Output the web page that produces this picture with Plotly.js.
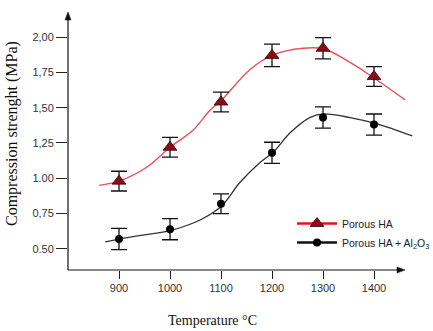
<!DOCTYPE html>
<html>
<head>
<meta charset="utf-8">
<script src="https://cdn.plot.ly/plotly-3.0.1.min.js"></script>
<style>html,body{margin:0;padding:0;background:#fff;}#chart{width:433px;height:331px;}</style>
</head>
<body>
<div id="chart"></div>
<script>
// Measured points
var temps = [900, 1000, 1100, 1200, 1300, 1400];
var haValues = [0.98, 1.22, 1.54, 1.87, 1.92, 1.72];
var haErrors = [0.07, 0.07, 0.07, 0.08, 0.075, 0.07];
var alValues = [0.57, 0.64, 0.82, 1.18, 1.43, 1.38];
var alErrors = [0.075, 0.075, 0.07, 0.075, 0.075, 0.075];

// Fitted curves
var haFitX = [861, 900, 955, 1000, 1045, 1078, 1100, 1157, 1200, 1261, 1302, 1353, 1400, 1461];
var haFitY = [0.95, 0.98, 1.08, 1.22, 1.34, 1.48, 1.55, 1.77, 1.87, 1.92, 1.915, 1.82, 1.71, 1.555];
var alFitX = [873, 900, 950, 1000, 1059, 1100, 1137, 1176, 1204, 1235, 1274, 1300, 1353, 1406, 1475];
var alFitY = [0.55, 0.57, 0.60, 0.63, 0.705, 0.80, 0.97, 1.11, 1.19, 1.32, 1.43, 1.455, 1.43, 1.385, 1.30];

// Axis ticks
var xTicks = [900, 1000, 1100, 1200, 1300, 1400];
var xTickText = ['900', '1000', '1100', '1200', '1300', '1400'];
var yTicks = [0.5, 0.75, 1.0, 1.25, 1.5, 1.75, 2.0];
var yTickText = ['0.50', '0,75', '1.00', '1,25', '1,50', '1,75', '2,00'];

var seriesNames = ['Porous HA', 'Porous HA + Al<sub>2</sub>O<sub>3</sub>'];
var xTitle = 'Temperature °C';
var yTitle = 'Compression strenght (MPa)';

var redLine = '#e8505a';
var triFill = '#8a0c18';

var traces = [
  {x: haFitX, y: haFitY, mode: 'lines', line: {color: redLine, width: 1.4, shape: 'spline', smoothing: 1}, showlegend: false, hoverinfo: 'skip'},
  {x: alFitX, y: alFitY, mode: 'lines', line: {color: '#333333', width: 1.3, shape: 'spline', smoothing: 1}, showlegend: false, hoverinfo: 'skip'},
  {x: temps, y: haValues, mode: 'markers', showlegend: false,
   marker: {symbol: 'triangle-up', size: 12, color: triFill, line: {color: '#3a0000', width: 0.8}},
   error_y: {type: 'data', array: haErrors, visible: true, color: '#111', thickness: 1.3, width: 8}},
  {x: temps, y: alValues, mode: 'markers', showlegend: false,
   marker: {symbol: 'circle', size: 8, color: '#000'},
   error_y: {type: 'data', array: alErrors, visible: true, color: '#111', thickness: 1.3, width: 8}},
  {x: [null], y: [null], mode: 'lines+markers', name: seriesNames[0],
   line: {color: '#e8101a', width: 2.5}, marker: {symbol: 'triangle-up', size: 12, color: triFill, line: {color: '#3a0000', width: 0.8}}},
  {x: [null], y: [null], mode: 'lines+markers', name: seriesNames[1],
   line: {color: '#111', width: 2.5}, marker: {symbol: 'circle', size: 8, color: '#000'}}
];

var L = 68, R = 18, T = 12, B = 61;
var W = 433 - L - R, H = 331 - T - B;
function px(xp) { return (xp - L) / W; }
function py(yp) { return (331 - B - yp) / H; }

var xEnd = px(405);
var ah = 8, aw = 3;

var layout = {
  width: 433, height: 331,
  margin: {l: L, r: R, t: T, b: B, pad: 0, autoexpand: false},
  paper_bgcolor: '#fff', plot_bgcolor: '#fff',
  showlegend: true,
  legend: {x: px(292), xanchor: 'left', y: py(209), yanchor: 'top',
           bgcolor: 'rgba(0,0,0,0)', font: {family: 'Liberation Sans, Arial, sans-serif', size: 10.5, color: '#222'},
           itemwidth: 40, tracegroupgap: 0},
  xaxis: {
    range: [800, 800 + W / 0.51], showgrid: false, zeroline: false, showline: false,
    tickvals: xTicks, ticktext: xTickText, ticks: 'outside', ticklen: 8, tickcolor: '#222', tickwidth: 1,
    tickfont: {family: 'Liberation Sans, Arial, sans-serif', size: 11, color: '#333'},
    fixedrange: true
  },
  yaxis: {
    range: [0.351, 2.177], showgrid: false, zeroline: false, showline: false,
    tickvals: yTicks, ticktext: yTickText, ticks: 'outside', ticklen: 11, tickcolor: '#222', tickwidth: 1,
    tickfont: {family: 'Liberation Sans, Arial, sans-serif', size: 11, color: '#333'},
    fixedrange: true
  },
  shapes: [
    {type: 'line', xref: 'paper', yref: 'paper', x0: 0, y0: 0, x1: xEnd - 2 / W, y1: 0, line: {color: '#111', width: 1.2}},
    {type: 'line', xref: 'paper', yref: 'paper', x0: 0, y0: 0, x1: 0, y1: 1 - 2 / H, line: {color: '#111', width: 1.2}},
    {type: 'path', xref: 'paper', yref: 'paper',
     path: 'M' + xEnd + ',0 L' + (xEnd - ah / W) + ',' + (aw / H) + ' L' + (xEnd - ah / W) + ',' + (-aw / H) + ' Z',
     fillcolor: '#111', line: {color: '#111', width: 0.5}},
    {type: 'path', xref: 'paper', yref: 'paper',
     path: 'M0,1 L' + (aw / W) + ',' + (1 - ah / H) + ' L' + (-aw / W) + ',' + (1 - ah / H) + ' Z',
     fillcolor: '#111', line: {color: '#111', width: 0.5}}
  ],
  annotations: [
    {xref: 'paper', yref: 'paper', x: px(212), y: py(320), xanchor: 'center', yanchor: 'middle', showarrow: false,
     text: xTitle, font: {family: 'Liberation Serif, Times New Roman, serif', size: 14, color: '#111'}},
    {xref: 'paper', yref: 'paper', x: px(12), y: py(134), xanchor: 'center', yanchor: 'middle', showarrow: false,
     textangle: -90, text: yTitle, font: {family: 'Liberation Serif, Times New Roman, serif', size: 16, color: '#111'}}
  ]
};

Plotly.newPlot('chart', traces, layout, {displayModeBar: false, staticPlot: true});
</script>
</body>
</html>
